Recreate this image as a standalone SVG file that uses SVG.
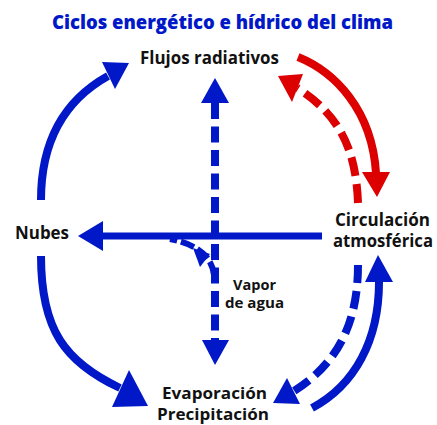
<svg xmlns="http://www.w3.org/2000/svg" width="437" height="425" viewBox="0 0 437 425">
<style>
  text { font-family: "Open Sans", "Liberation Sans", sans-serif; font-weight: 700; text-anchor: middle; fill: #111; }
  .title { fill: #0018c8; font-size: 19px; font-weight: 800; }
  .lbl { font-size: 17px; }
  .ev { font-size: 16px; }
  .small { font-size: 14px; }
  .b { stroke: #0018c8; fill: none; stroke-linecap: butt; }
  .r { stroke: #dc0000; fill: none; stroke-linecap: butt; }
  .hb { fill: #0018c8; stroke: none; }
  .hr { fill: #dc0000; stroke: none; }
  .w8 { stroke-width: 8; }
</style>
<rect width="437" height="425" fill="#ffffff"/>
<text class="title" x="222.5" y="29" textLength="341" lengthAdjust="spacingAndGlyphs">Ciclos energético e hídrico del clima</text>

<g id="connectors">
  <!-- left upper: Nubes -> Flujos -->
  <path class="b w8" d="M 41,200 C 41,140 65,100 108,76"/>
  <polygon class="hb" points="129,63 102,62 115,89"/>
  <!-- left lower: Nubes -> Evaporación -->
  <path class="b w8" d="M 41,256 C 41,330 65,362 120,388"/>
  <polygon class="hb" points="148,406 129,370 112,407"/>
  <!-- red solid: Flujos -> Circulación -->
  <path class="r w8" d="M 298,57 C 335,72 372,110 376,173"/>
  <polygon class="hr" points="377,197 362,172 390,172"/>
  <!-- red dashed: Circulación -> Flujos -->
  <path class="r w8" stroke-dasharray="19 8" d="M 358,203 C 356,150 340,115 297,88"/>
  <polygon class="hr" points="278,76 303,74 292,102"/>
  <!-- horizontal: Circulación -> Nubes -->
  <path class="b" stroke-width="7" d="M 322,236 L 103,236"/>
  <polygon class="hb" points="78,236 103,221 103,251"/>
  <!-- vertical dashed double arrow -->
  <path class="b w8" stroke-dasharray="16 7.5" d="M 215,103 L 215,340"/>
  <polygon class="hb" points="215,78 201,103 229,103"/>
  <polygon class="hb" points="215,365 202,340 229,340"/>
  <!-- vapor arc -->
  <path class="b" stroke-width="6" stroke-dasharray="14 4" d="M 214,275 C 212,258 200,245 170,239"/>
  <polygon class="hb" points="193,248 210,254 200,267"/>
  <!-- blue solid lower right: Evaporación -> Circulación -->
  <path class="b w8" d="M 312,408 C 355,385 379,340 379,282"/>
  <polygon class="hb" points="378,255 365,282 393,282"/>
  <!-- blue dashed lower right: Circulación -> Evaporación -->
  <path class="b w8" stroke-dasharray="18 8" d="M 358,265 C 358,320 340,362 294,391"/>
  <polygon class="hb" points="273,403 287,378 300,404"/>
</g>

<g id="flujos">
  <text class="lbl" x="209.5" y="64" textLength="139" lengthAdjust="spacingAndGlyphs">Flujos radiativos</text>
</g>
<g id="nubes">
  <text class="lbl" x="42" y="239" textLength="54" lengthAdjust="spacingAndGlyphs">Nubes</text>
</g>
<g id="circulacion">
  <text class="lbl" x="382.5" y="226" textLength="95" lengthAdjust="spacingAndGlyphs">Circulación</text>
  <text class="lbl" x="383" y="247" textLength="100" lengthAdjust="spacingAndGlyphs">atmosférica</text>
</g>
<g id="vapor">
  <text class="small" x="254.5" y="290" textLength="43" lengthAdjust="spacingAndGlyphs">Vapor</text>
  <text class="small" x="254.5" y="308" textLength="59" lengthAdjust="spacingAndGlyphs">de agua</text>
</g>
<g id="evaporacion">
  <text class="ev" x="214.5" y="399" textLength="105" lengthAdjust="spacingAndGlyphs">Evaporación</text>
  <text class="ev" x="213" y="420" textLength="112" lengthAdjust="spacingAndGlyphs">Precipitación</text>
</g>
</svg>
